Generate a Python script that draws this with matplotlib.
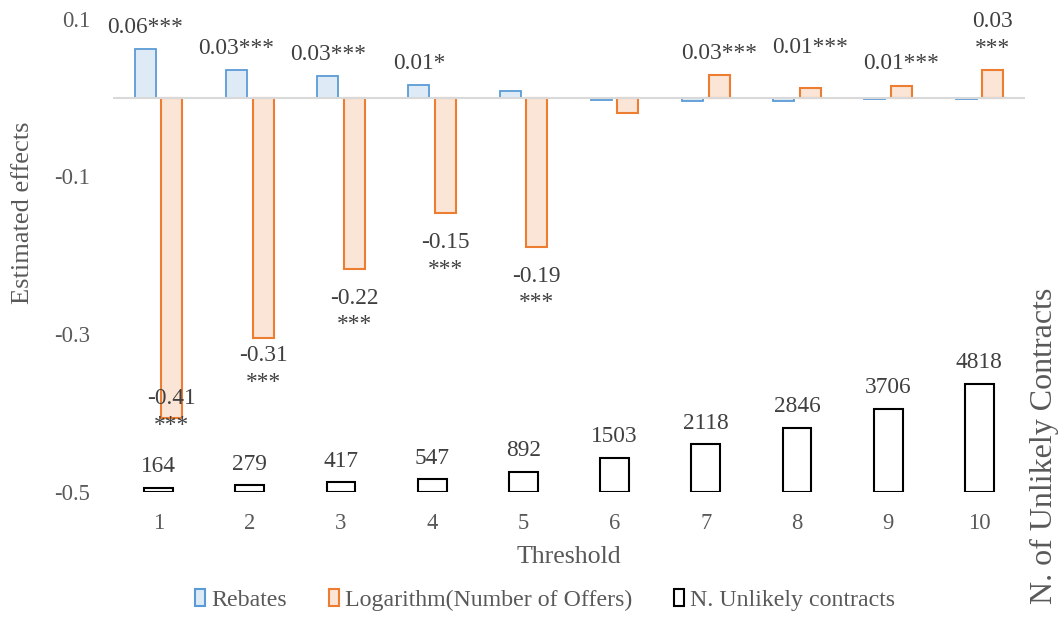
import matplotlib
matplotlib.use("Agg")
import matplotlib.pyplot as plt
import numpy as np
from matplotlib.patches import Patch

# ---------------- data ----------------
thresholds = ["1", "2", "3", "4", "5", "6", "7", "8", "9", "10"]
rebates = [0.062, 0.035, 0.027, 0.016, 0.0085, -0.003, -0.005, -0.005, -0.002, -0.002]
log_offers = [-0.407, -0.305, -0.217, -0.147, -0.189, -0.019, 0.029, 0.012, 0.014, 0.035]
n_unlikely = [164, 279, 417, 547, 892, 1503, 2118, 2846, 3706, 4818]

rebates_labels = ["0.06***", "0.03***", "0.03***", "0.01*", "", "", "", "", "", ""]
offers_labels = ["-0.41\n***", "-0.31\n***", "-0.22\n***", "-0.15\n***", "-0.19\n***",
                 "", "0.03***", "0.01***", "0.01***", "0.03\n***"]

# label vertical offsets (points) – layout only
rebates_offsets = [8, 8, 8, 8, 8, 8, 8, 8, 8, 8]
offers_offsets = [21.6, -5, -13.7, -13.7, -13.7, -8, 8, 22, 9, 8]

# ---------------- style ----------------
plt.rcParams["font.family"] = ["Liberation Serif", "DejaVu Serif"]
BLUE_EDGE, BLUE_FILL = "#5B9BD5", "#DEEBF7"
ORANGE_EDGE, ORANGE_FILL = "#ED7D31", "#FBE5D6"
LABEL_C = "#404040"
AXIS_C = "#595959"
LBL_FS = 16.8

W, H = 1064, 617
fig = plt.figure(figsize=(W / 100, H / 100), dpi=100)
ax = fig.add_axes([113 / W, 1 - 491.7 / H, 912 / W, 473 / H])

x = np.arange(len(thresholds))
bw = 0.23
off = 0.146

ax.bar(x - off, rebates, bw, facecolor=BLUE_FILL, edgecolor=BLUE_EDGE, linewidth=1.3, zorder=2)
ax.bar(x + off, log_offers, bw, facecolor=ORANGE_FILL, edgecolor=ORANGE_EDGE, linewidth=1.5, zorder=2)
ax.axhline(0, color="#D9D9D9", linewidth=1.5, zorder=3)

ax.set_ylim(-0.5, 0.1)
ax.set_xlim(-0.5, len(thresholds) - 0.5)
ax.set_yticks([0.1, -0.1, -0.3, -0.5])
ax.set_yticklabels(["0.1", "-0.1", "-0.3", "-0.5"])
ax.set_xticks(x)
ax.set_xticklabels(thresholds)
ax.tick_params(axis="y", length=0, pad=16.5, labelsize=16.3, labelcolor=AXIS_C)
ax.tick_params(axis="x", length=0, pad=15.3, labelsize=16.3, labelcolor=AXIS_C)
for s in ax.spines.values():
    s.set_visible(False)

for xi, v, lab, o in zip(x, rebates, rebates_labels, rebates_offsets):
    if lab:
        ax.annotate(lab, (xi - off, v), xytext=(0, o), textcoords="offset points",
                    ha="center", va="bottom", fontsize=LBL_FS, color=LABEL_C, zorder=5)
for xi, v, lab, o in zip(x, log_offers, offers_labels, offers_offsets):
    if lab:
        va = "bottom" if v >= 0 else "top"
        ax.annotate(lab, (xi + off, v), xytext=(0, o), textcoords="offset points",
                    ha="center", va=va, fontsize=LBL_FS, color=LABEL_C, zorder=5,
                    multialignment="center", linespacing=1.35)

ax.set_ylabel("Estimated effects", fontsize=19, color=AXIS_C, ha="center", va="center")
ax.yaxis.set_label_coords((23 - 113) / 912, (491.7 - 213) / 473)
ax.set_xlabel("Threshold", fontsize=18.6, color=AXIS_C, ha="center", va="center")
ax.xaxis.set_label_coords(0.5, (491.7 - 557) / 473)

# secondary axis
ax2 = ax.twinx()
ax2.bar(x, n_unlikely, 0.315, facecolor="white", edgecolor="black", linewidth=1.5, zorder=2)
ax2.set_ylim(0, 21200)
ax2.set_yticks([])
for s in ax2.spines.values():
    s.set_visible(False)
for xi, v in zip(x, n_unlikely):
    ax2.annotate(str(v), (xi, v), xytext=(0, 7.8), textcoords="offset points",
                 ha="center", va="bottom", fontsize=LBL_FS, color=LABEL_C)
ax2.set_ylabel("N. of Unlikely Contracts", fontsize=23, color=AXIS_C, ha="center", va="center")
ax2.yaxis.set_label_coords((1044 - 113) / 912, (491.7 - 445.5) / 473)

handles = [
    Patch(facecolor=BLUE_FILL, edgecolor=BLUE_EDGE, linewidth=1.5, label="Rebates"),
    Patch(facecolor=ORANGE_FILL, edgecolor=ORANGE_EDGE, linewidth=1.5, label="Logarithm(Number of Offers)"),
    Patch(facecolor="white", edgecolor="black", linewidth=1.5, label="N. Unlikely contracts"),
]
leg = fig.legend(handles=handles, loc="center", bbox_to_anchor=(545 / W, 1 - 600 / H),
                 ncol=3, frameon=False, fontsize=17.2, handlelength=0.42, handleheight=0.75,
                 handletextpad=0.25, columnspacing=1.75, borderaxespad=0)
for t in leg.get_texts():
    t.set_color(AXIS_C)

fig.savefig("out.png", dpi=100)
